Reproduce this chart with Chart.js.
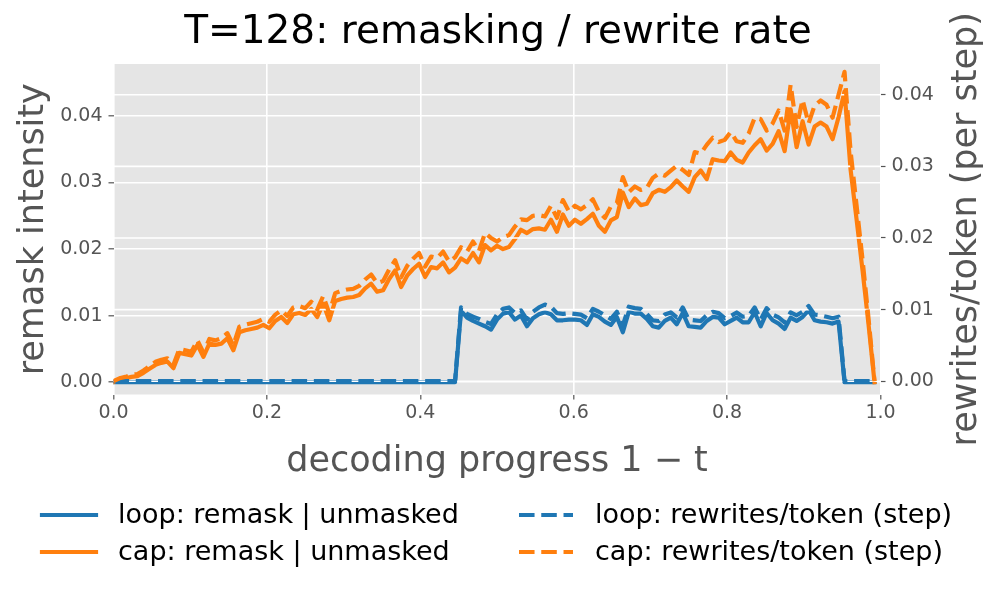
<!DOCTYPE html>
<html>
<head>
<meta charset="utf-8">
<script src="https://cdn.jsdelivr.net/npm/chart.js@4.4.1/dist/chart.umd.min.js"></script>
<style>
  html, body { margin: 0; padding: 0; background: #fff; }
</style>
</head>
<body>
<canvas id="c" width="996" height="594"></canvas>
<script>
// T=128 decoding steps, progress 1 - t on the x axis
const T = 128;

// loop: remask | unmasked (left axis)
const loopRemask = [
  0, 0, 0, 0, 0, 0, 0, 0, 0, 0,
  0, 0, 0, 0, 0, 0, 0, 0, 0, 0,
  0, 0, 0, 0, 0, 0, 0, 0, 0, 0,
  0, 0, 0, 0, 0, 0, 0, 0, 0, 0,
  0, 0, 0, 0, 0, 0, 0, 0, 0, 0,
  0, 0, 0, 0, 0, 0, 0, 0, 0.0107, 0.0097,
  0.0092, 0.0088, 0.0084, 0.0079, 0.0094, 0.0103, 0.0105, 0.0094, 0.0100, 0.0084,
  0.0096, 0.0102, 0.0105, 0.0102, 0.0093, 0.0093, 0.0094, 0.0094, 0.0093, 0.0086,
  0.0102, 0.0098, 0.0091, 0.0086, 0.0098, 0.0075, 0.0106, 0.0103, 0.0103, 0.0095,
  0.0084, 0.0082, 0.0092, 0.0097, 0.0087, 0.0104, 0.0084, 0.0083, 0.0082, 0.0092,
  0.0098, 0.0097, 0.0087, 0.0092, 0.0097, 0.0090, 0.0090, 0.0105, 0.0084, 0.0104,
  0.0093, 0.0088, 0.0080, 0.0097, 0.0092, 0.0098, 0.0108, 0.0093, 0.0091, 0.0090,
  0.0088, 0.0091, 0, 0, 0, 0, 0, 0
];

// cap: remask | unmasked (left axis)
const capRemask = [
  0.0000, 0.0005, 0.0006, 0.0008, 0.0009, 0.0014, 0.0020, 0.0026, 0.0029, 0.0031,
  0.0021, 0.0044, 0.0042, 0.0040, 0.0056, 0.0038, 0.0058, 0.0056, 0.0058, 0.0066,
  0.0048, 0.0075, 0.0078, 0.0080, 0.0082, 0.0086, 0.0081, 0.0092, 0.0098, 0.0089,
  0.0102, 0.0104, 0.0101, 0.0110, 0.0098, 0.0118, 0.0093, 0.0122, 0.0125, 0.0127,
  0.0128, 0.0131, 0.0141, 0.0148, 0.0136, 0.0138, 0.0155, 0.0168, 0.0143, 0.0160,
  0.0170, 0.0178, 0.0158, 0.0173, 0.0171, 0.0180, 0.0165, 0.0172, 0.0186, 0.0180,
  0.0194, 0.0180, 0.0206, 0.0198, 0.0205, 0.0200, 0.0203, 0.0215, 0.0229, 0.0224,
  0.0230, 0.0231, 0.0229, 0.0244, 0.0226, 0.0252, 0.0235, 0.0244, 0.0238, 0.0245,
  0.0253, 0.0235, 0.0226, 0.0243, 0.0248, 0.0285, 0.0263, 0.0276, 0.0266, 0.0268,
  0.0284, 0.0289, 0.0286, 0.0293, 0.0303, 0.0294, 0.0286, 0.0308, 0.0318, 0.0305,
  0.0335, 0.0333, 0.0332, 0.0345, 0.0334, 0.0330, 0.0345, 0.0356, 0.0365, 0.0348,
  0.0358, 0.0377, 0.0347, 0.0410, 0.0353, 0.0392, 0.0357, 0.0384, 0.0390, 0.0384,
  0.0365, 0.0398, 0.0437, 0.0320, 0.0245, 0.0168, 0.0087, 0.0000
];

// loop: rewrites/token (step) (right axis)
const loopRewrite = [
  0, 0, 0, 0, 0, 0, 0, 0, 0, 0,
  0, 0, 0, 0, 0, 0, 0, 0, 0, 0,
  0, 0, 0, 0, 0, 0, 0, 0, 0, 0,
  0, 0, 0, 0, 0, 0, 0, 0, 0, 0,
  0, 0, 0, 0, 0, 0, 0, 0, 0, 0,
  0, 0, 0, 0, 0, 0, 0, 0, 0.0103, 0.0094,
  0.0090, 0.0087, 0.0083, 0.0080, 0.0093, 0.0101, 0.0103, 0.0095, 0.0099, 0.0086,
  0.0097, 0.0103, 0.0107, 0.0104, 0.0095, 0.0094, 0.0095, 0.0094, 0.0093, 0.0088,
  0.0101, 0.0097, 0.0092, 0.0087, 0.0097, 0.0078, 0.0104, 0.0102, 0.0101, 0.0094,
  0.0085, 0.0084, 0.0093, 0.0096, 0.0089, 0.0103, 0.0086, 0.0085, 0.0084, 0.0092,
  0.0097, 0.0095, 0.0088, 0.0091, 0.0096, 0.0090, 0.0091, 0.0103, 0.0086, 0.0102,
  0.0093, 0.0089, 0.0082, 0.0096, 0.0092, 0.0097, 0.0105, 0.0093, 0.0092, 0.0090,
  0.0088, 0.0090, 0, 0, 0, 0, 0, 0
];

// cap: rewrites/token (step) (right axis)
const capRewrite = [
  0.0000, 0.0004, 0.0006, 0.0009, 0.0010, 0.0015, 0.0021, 0.0027, 0.0030, 0.0032,
  0.0023, 0.0045, 0.0043, 0.0041, 0.0057, 0.0040, 0.0059, 0.0057, 0.0060, 0.0067,
  0.0050, 0.0076, 0.0079, 0.0081, 0.0083, 0.0087, 0.0083, 0.0093, 0.0099, 0.0091,
  0.0103, 0.0105, 0.0102, 0.0111, 0.0100, 0.0119, 0.0095, 0.0123, 0.0126, 0.0128,
  0.0129, 0.0133, 0.0142, 0.0149, 0.0137, 0.0140, 0.0156, 0.0169, 0.0145, 0.0161,
  0.0171, 0.0179, 0.0160, 0.0174, 0.0172, 0.0181, 0.0167, 0.0173, 0.0187, 0.0181,
  0.0195, 0.0182, 0.0207, 0.0200, 0.0195, 0.0201, 0.0204, 0.0216, 0.0226, 0.0225,
  0.0231, 0.0232, 0.0230, 0.0245, 0.0228, 0.0253, 0.0237, 0.0245, 0.0240, 0.0246,
  0.0254, 0.0237, 0.0228, 0.0244, 0.0249, 0.0285, 0.0264, 0.0272, 0.0267, 0.0270,
  0.0284, 0.0290, 0.0287, 0.0294, 0.0301, 0.0295, 0.0288, 0.0320, 0.0318, 0.0330,
  0.0340, 0.0334, 0.0337, 0.0348, 0.0335, 0.0333, 0.0346, 0.0368, 0.0366, 0.0350,
  0.0360, 0.0378, 0.0350, 0.0414, 0.0355, 0.0393, 0.0360, 0.0385, 0.0392, 0.0386,
  0.0368, 0.0400, 0.0432, 0.0322, 0.0246, 0.0170, 0.0088, 0.0000
];

const xTicks = [0, 0.2, 0.4, 0.6, 0.8, 1.0];
const leftTicks = [0, 0.01, 0.02, 0.03, 0.04];
const rightTicks = [0, 0.01, 0.02, 0.03, 0.04];
const rightTitle = 'rewrites/token (per step)';

const FONT = 'DejaVu Sans';
const BLUE = '#1f77b4';
const ORANGE = '#ff7f0e';
const LW = 4.2;
const DASH = [3.7 * LW, 1.6 * LW];

// x = step / T
const progress = capRemask.map((_, i) => i / T);
const pts = arr => arr.map((v, i) => ({ x: progress[i], y: v }));

function line(label, values, color, axis, dashed, order) {
  return {
    label: label,
    data: pts(values),
    yAxisID: axis,
    borderColor: color,
    backgroundColor: color,
    borderWidth: LW,
    borderDash: dashed ? DASH : [],
    borderCapStyle: dashed ? 'butt' : 'square',
    borderJoinStyle: 'round',
    pointRadius: 0,
    tension: 0,
    fill: false,
    order: order
  };
}

// grey panel like the ggplot style
const panelBg = {
  id: 'panelBg',
  beforeDraw(chart) {
    const a = chart.chartArea, ctx = chart.ctx;
    ctx.save();
    ctx.fillStyle = '#E5E5E5';
    ctx.fillRect(a.left, a.top, a.right - a.left, a.bottom - a.top);
    ctx.restore();
  }
};

// grid of the twin axis goes over the solid lines but under the dashed ones
const twinGrid = {
  id: 'twinGrid',
  beforeDatasetsDraw(chart) { chart.$twinGridDone = false; },
  beforeDatasetDraw(chart, args) {
    const ds = chart.data.datasets[args.index];
    if (ds.yAxisID !== 'y2' || chart.$twinGridDone) return;
    chart.$twinGridDone = true;
    const s = chart.scales.y2, a = chart.chartArea, ctx = chart.ctx;
    ctx.save();
    ctx.strokeStyle = '#ffffff';
    ctx.lineWidth = 1.6;
    s.ticks.forEach(t => {
      const y = s.getPixelForValue(t.value);
      ctx.beginPath();
      ctx.moveTo(a.left, y);
      ctx.lineTo(a.right, y);
      ctx.stroke();
    });
    ctx.restore();
  }
};

// right axis title reads bottom to top, like matplotlib
const rightLabel = {
  id: 'rightLabel',
  afterDraw(chart) {
    const a = chart.chartArea, ctx = chart.ctx;
    ctx.save();
    ctx.translate(967, (a.top + a.bottom) / 2);
    ctx.rotate(-Math.PI / 2);
    ctx.font = '35px "' + FONT + '"';
    ctx.fillStyle = '#555';
    ctx.textAlign = 'center';
    ctx.textBaseline = 'middle';
    ctx.fillText(rightTitle, 0, 0);
    ctx.restore();
  }
};

// two column legend below the axes
const colLegend = {
  id: 'colLegend',
  afterDraw(chart) {
    const ctx = chart.ctx;
    const cols = [[0, 1], [2, 3]];
    const colX = [40, 517];
    const rowY = [515, 552];
    const handle = 56;
    ctx.save();
    ctx.font = '27px "' + FONT + '"';
    ctx.textBaseline = 'middle';
    ctx.fillStyle = '#000';
    cols.forEach((col, c) => {
      col.forEach((di, r) => {
        const ds = chart.data.datasets[di];
        const x = colX[c], y = rowY[r];
        ctx.strokeStyle = ds.borderColor;
        ctx.lineWidth = LW;
        ctx.setLineDash(ds.borderDash);
        ctx.lineCap = ds.borderDash.length ? 'butt' : 'square';
        ctx.beginPath();
        ctx.moveTo(x + 2, y);
        ctx.lineTo(x + handle, y);
        ctx.stroke();
        ctx.setLineDash([]);
        ctx.fillText(ds.label, x + handle + 22, y + 1);
      });
    });
    ctx.restore();
  }
};

const tickFont = { family: FONT, size: 19 };
const labelFont = { family: FONT, size: 35 };

new Chart(document.getElementById('c'), {
  type: 'line',
  data: {
    datasets: [
      line('loop: remask | unmasked', loopRemask, BLUE, 'y', false, 4),
      line('cap: remask | unmasked', capRemask, ORANGE, 'y', false, 3),
      line('loop: rewrites/token (step)', loopRewrite, BLUE, 'y2', true, 2),
      line('cap: rewrites/token (step)', capRewrite, ORANGE, 'y2', true, 1)
    ]
  },
  options: {
    responsive: false,
    animation: false,
    devicePixelRatio: 1,
    layout: { padding: { left: 0, right: 0, top: 0, bottom: 109.5 } },
    plugins: {
      legend: { display: false },
      tooltip: { enabled: false },
      title: {
        display: true,
        text: 'T=128: remasking / rewrite rate',
        color: '#000',
        font: { family: FONT, size: 39, weight: 'normal', lineHeight: 1.2 },
        padding: { top: 9, bottom: 8.2 }
      }
    },
    scales: {
      x: {
        type: 'linear',
        position: 'bottom',
        min: 0,
        max: 1,
        afterBuildTicks: s => { s.ticks = xTicks.map(v => ({ value: v })); },
        afterFit: s => { s.height = 90; },
        ticks: {
          callback: v => v.toFixed(1),
          color: '#555',
          font: tickFont,
          padding: 2,
          maxRotation: 0,
          autoSkip: false
        },
        grid: { color: '#fff', lineWidth: 1.6, tickColor: '#555', tickLength: 5, tickWidth: 1.2 },
        border: { display: false },
        title: {
          display: true,
          text: 'decoding progress 1 \u2212 t',
          color: '#555',
          font: labelFont,
          padding: { top: 0, bottom: 2 }
        }
      },
      y: {
        type: 'linear',
        position: 'left',
        min: -0.00185,
        max: 0.0478,
        afterBuildTicks: s => { s.ticks = leftTicks.map(v => ({ value: v })); },
        afterFit: s => { s.width = 113.5; },
        ticks: { callback: v => v.toFixed(2), color: '#555', font: tickFont, padding: 6 },
        grid: { color: '#fff', lineWidth: 1.6, tickColor: '#555', tickLength: 5, tickWidth: 1.2 },
        border: { display: false },
        title: {
          display: true,
          text: 'remask intensity',
          color: '#555',
          font: labelFont,
          padding: { top: 13, bottom: 0 }
        }
      },
      y2: {
        type: 'linear',
        position: 'right',
        min: -0.00186,
        max: 0.0443,
        afterBuildTicks: s => { s.ticks = rightTicks.map(v => ({ value: v })); },
        afterFit: s => { s.width = 115.5; },
        ticks: { callback: v => v.toFixed(2), color: '#555', font: tickFont, padding: 6 },
        grid: { drawOnChartArea: false, tickColor: '#555', tickLength: 5, tickWidth: 1.2 },
        border: { display: false },
        title: { display: false }
      }
    }
  },
  plugins: [panelBg, twinGrid, rightLabel, colLegend]
});
</script>
</body>
</html>
